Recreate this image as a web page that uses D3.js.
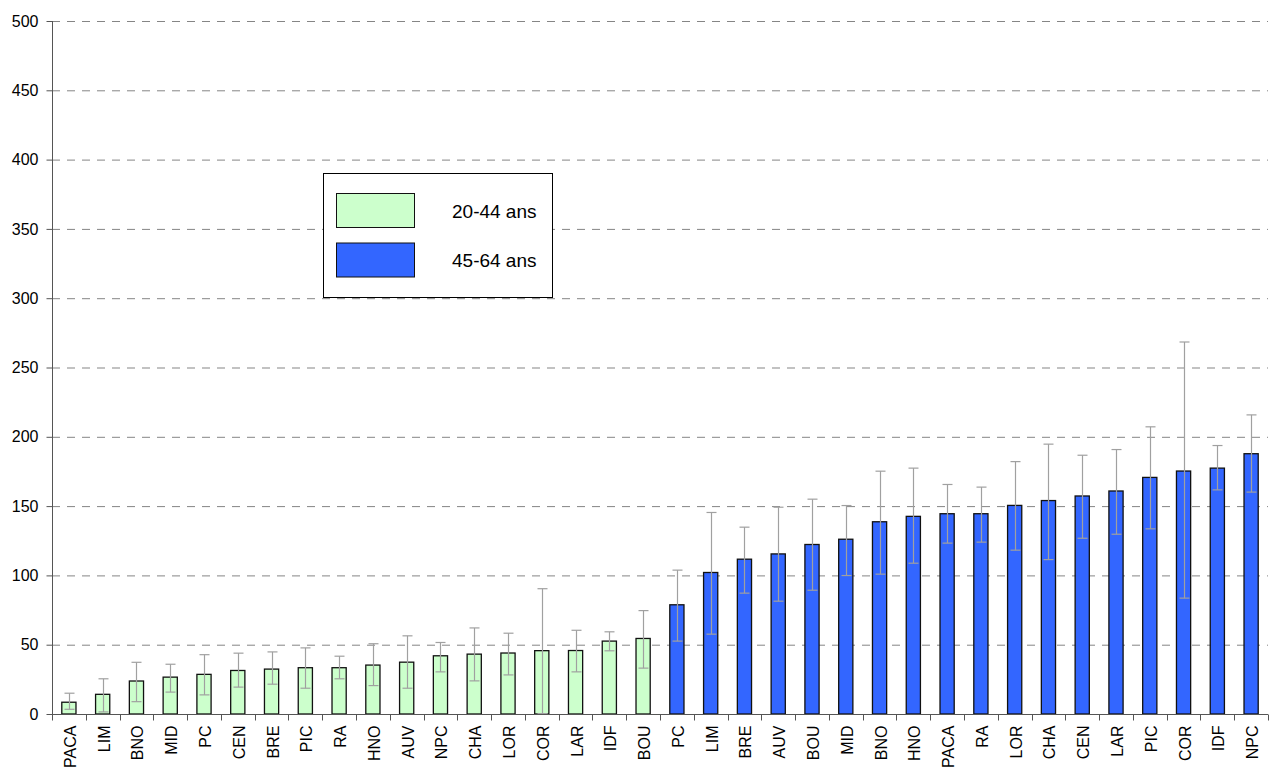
<!DOCTYPE html>
<html>
<head>
<meta charset="utf-8">
<script src="https://cdn.jsdelivr.net/npm/d3@7"></script>
<style>
html,body{margin:0;padding:0;background:#fff;}
svg{display:block;font-family:"Liberation Sans",Arial,sans-serif;}
</style>
</head>
<body>
<svg id="chart" width="1274" height="772"></svg>
<script>
const categories = ["PACA","LIM","BNO","MID","PC","CEN","BRE","PIC","RA","HNO","AUV","NPC","CHA","LOR","COR","LAR","IDF","BOU",
                    "PC","LIM","BRE","AUV","BOU","MID","BNO","HNO","PACA","RA","LOR","CHA","CEN","LAR","PIC","COR","IDF","NPC"];
const groups = ["20-44 ans","20-44 ans","20-44 ans","20-44 ans","20-44 ans","20-44 ans","20-44 ans","20-44 ans","20-44 ans",
                "20-44 ans","20-44 ans","20-44 ans","20-44 ans","20-44 ans","20-44 ans","20-44 ans","20-44 ans","20-44 ans",
                "45-64 ans","45-64 ans","45-64 ans","45-64 ans","45-64 ans","45-64 ans","45-64 ans","45-64 ans","45-64 ans",
                "45-64 ans","45-64 ans","45-64 ans","45-64 ans","45-64 ans","45-64 ans","45-64 ans","45-64 ans","45-64 ans"];
const values = [8.5,14.2,23.8,26.6,28.6,31.4,32.4,33.4,33.4,35.3,37.4,42.0,43.2,44.0,45.7,45.8,52.6,54.5,
                78.8,102.1,111.7,115.5,122.3,126.1,138.7,142.6,144.5,144.5,150.5,154.0,157.3,160.9,170.7,175.3,177.4,187.8];
const upperCI = [15.0,25.4,37.3,35.9,42.8,43.9,44.8,47.7,41.7,50.7,56.4,51.6,62.1,58.3,90.4,60.4,59.3,74.6,
                 103.8,145.4,134.8,149.2,155.0,150.4,175.2,177.4,165.6,163.7,182.1,194.7,186.7,190.8,207.2,268.4,193.7,215.8];
const lowerCI = [3.4,1.5,8.9,15.8,13.8,19.4,21.5,18.6,25.4,20.5,18.6,30.4,23.9,28.2,0.3,30.4,45.6,33.1,
                 52.6,57.6,87.2,81.4,89.3,99.9,100.9,108.8,123.3,124.0,118.2,111.4,126.8,129.7,133.6,83.6,161.7,160.1];
const yTicks = [0,50,100,150,200,250,300,350,400,450,500];
const seriesNames = ["20-44 ans","45-64 ans"];
const seriesColors = ["#CCFFCC","#3366FF"];

const svg = d3.select("#chart");
const mLeft = 52, mRight = 1268, mTop = 21, mBottom = 714;

const x = d3.scaleBand().domain(d3.range(categories.length)).range([mLeft, mRight]).padding(0);
const y = d3.scaleLinear().domain([0, 500]).range([mBottom, mTop]);
const color = d3.scaleOrdinal().domain(seriesNames).range(seriesColors);

// gridlines
svg.append("g").selectAll("line").data(yTicks.filter(d => d > 0)).join("line")
  .attr("x1", mLeft).attr("x2", mRight)
  .attr("y1", d => y(d) + 0.5).attr("y2", d => y(d) + 0.5)
  .attr("stroke", "#858585").attr("stroke-width", 1).attr("stroke-dasharray", "8,7");

// bars
const barW = x.bandwidth() * 0.42;
svg.append("g").selectAll("rect").data(values).join("rect")
  .attr("x", (d, i) => x(i) + x.bandwidth() / 2 - barW / 2)
  .attr("y", d => y(d))
  .attr("width", barW)
  .attr("height", d => mBottom - y(d))
  .attr("fill", (d, i) => color(groups[i]))
  .attr("stroke", "#111").attr("stroke-width", 1.3);

// error bars
const eg = svg.append("g").attr("stroke", "#a0a0a0").attr("stroke-width", 1.2);
values.forEach((v, i) => {
  const cx = Math.round(x(i) + x.bandwidth() / 2) + 0.5;
  eg.append("line").attr("x1", cx).attr("x2", cx).attr("y1", y(upperCI[i])).attr("y2", y(lowerCI[i]));
  eg.append("line").attr("x1", cx - 5).attr("x2", cx + 5).attr("y1", y(upperCI[i])).attr("y2", y(upperCI[i]));
  eg.append("line").attr("x1", cx - 5).attr("x2", cx + 5).attr("y1", y(lowerCI[i])).attr("y2", y(lowerCI[i]));
});

// y axis
const yAxis = svg.append("g").attr("transform", `translate(${mLeft + 0.5},0)`)
  .call(d3.axisLeft(y).tickValues(yTicks).tickSize(6).tickPadding(8).tickFormat(d3.format("d")));
yAxis.select(".domain").attr("stroke", "#555").attr("d", `M0,${mTop}V${mBottom}`);
yAxis.selectAll(".tick line").attr("stroke", "#555");
yAxis.selectAll("text").attr("font-size", 16).attr("fill", "#000").attr("font-family", '"Liberation Sans",Arial,sans-serif');

// x axis
const xg = svg.append("g").attr("transform", `translate(0,${mBottom + 0.5})`);
xg.append("line").attr("x1", mLeft).attr("x2", mRight).attr("stroke", "#555");
xg.selectAll("line.t").data(d3.range(categories.length + 1)).join("line").attr("class", "t")
  .attr("x1", i => Math.round(mLeft + i * x.step()) + 0.5).attr("x2", i => Math.round(mLeft + i * x.step()) + 0.5)
  .attr("y1", 0).attr("y2", 6).attr("stroke", "#555");
xg.selectAll("text").data(categories).join("text")
  .attr("transform", (d, i) => `translate(${x(i) + x.bandwidth() / 2 + 7},11) rotate(-90)`)
  .attr("text-anchor", "end")
  .attr("font-size", 16)
  .attr("fill", "#000")
  .text(d => d);

// legend
const lg = svg.append("g");
lg.append("rect").attr("x", 323.5).attr("y", 173.5).attr("width", 229).attr("height", 124)
  .attr("fill", "#fff").attr("stroke", "#000").attr("stroke-width", 1);
seriesNames.forEach((s, k) => {
  const yy = 193.5 + k * 49.5;
  lg.append("rect").attr("x", 336.5).attr("y", yy).attr("width", 78).attr("height", 34)
    .attr("fill", color(s)).attr("stroke", "#111").attr("stroke-width", 1);
  lg.append("text").attr("x", 452).attr("y", yy + 24).attr("font-size", 19).attr("fill", "#000").text(s);
});
</script>
</body>
</html>
